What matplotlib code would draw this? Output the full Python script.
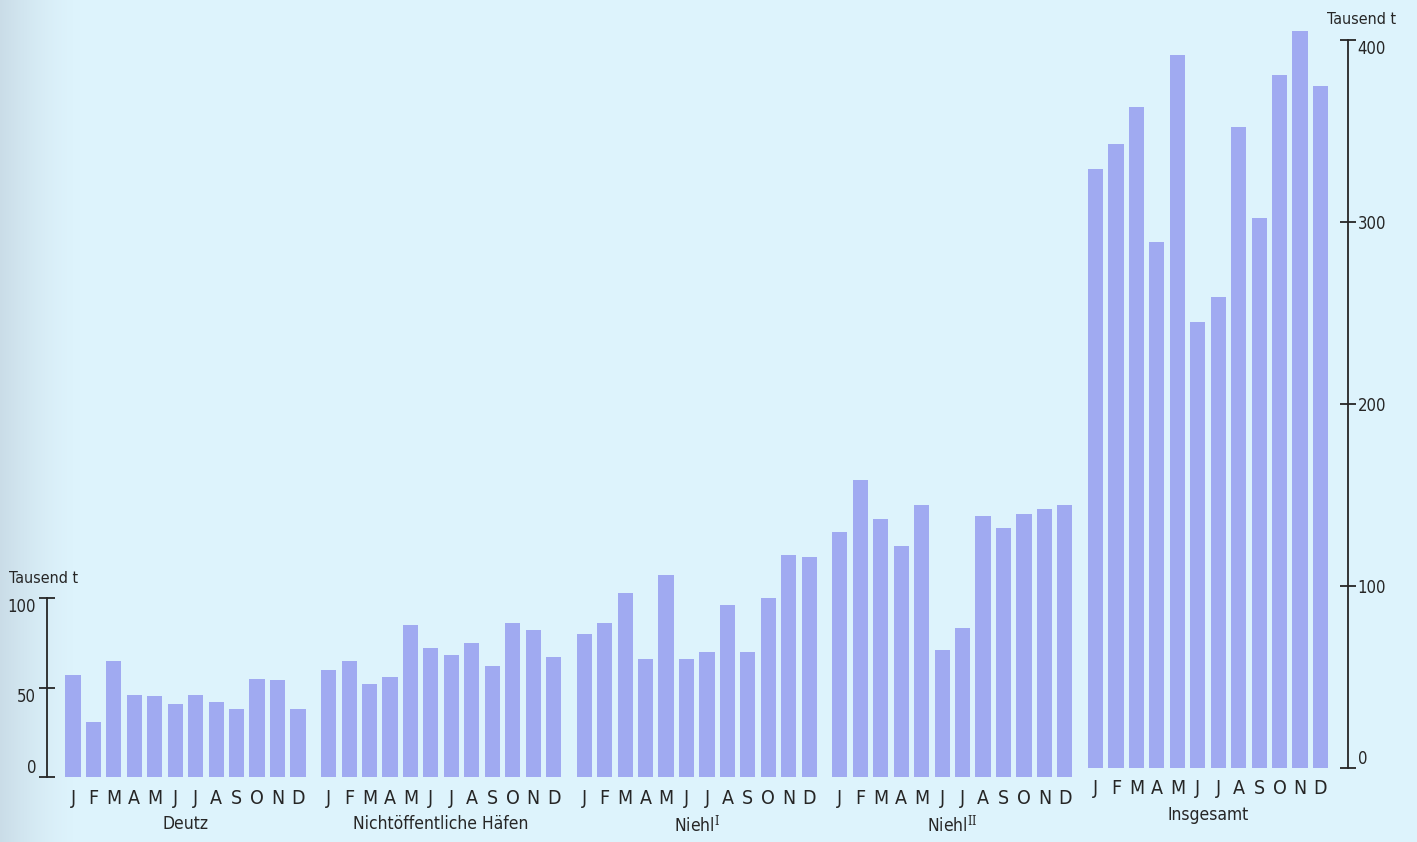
import numpy as np
import matplotlib.pyplot as plt

plt.rcParams['font.family'] = ['DejaVu Sans']
plt.rcParams['font.stretch'] = 'condensed'
plt.rcParams['mathtext.fontset'] = 'dejavuserif'

months = ['J', 'F', 'M', 'A', 'M', 'J', 'J', 'A', 'S', 'O', 'N', 'D']
group_names = ['Deutz', 'Nichtöffentliche Häfen', r'Niehl$^{\mathrm{I}}$',
               r'Niehl$^{\mathrm{II}}$', 'Insgesamt']

# Tausend t
deutz = [57, 31, 65, 46, 45, 41, 46, 42, 38, 55, 54, 38]
nicht_oeff = [60, 65, 52, 56, 85, 72, 68, 75, 62, 86, 82, 67]
niehl_1 = [80, 86, 103, 66, 113, 66, 70, 96, 70, 100, 124, 123]
niehl_2 = [137, 166, 144, 129, 152, 71, 83, 146, 139, 147, 150, 152]
insgesamt = [329, 343, 363, 289, 392, 245, 259, 352, 302, 381, 405, 375]

left_ticks = [0, 50, 100]
right_ticks = [0, 100, 200, 300, 400]

bg = '#ddf3fc'
bar_col = '#a0aaf1'
ink = '#262626'

fig = plt.figure(figsize=(14.17, 8.42), dpi=100, facecolor=bg)
ax = fig.add_axes([0, 0, 1, 1])
ax.set_facecolor(bg)
ax.set_xlim(-3.57, 65.72)
ax.set_ylim(-36.3, 434.1)

ax2 = ax.twinx()
ax2.set_ylim(-40.66, 421.98)
ax2.patch.set_visible(False)

# scan shadow on the left edge
grad = np.zeros((2, 100, 4))
grad[..., :3] = [0.62, 0.66, 0.72]
grad[..., 3] = np.linspace(0.45, 0, 100) ** 1.5
ax.imshow(grad, extent=[0, 0.055, 0, 1], transform=ax.transAxes,
          aspect='auto', zorder=0)

pitch = 12.5
width = 0.74
series = [deutz, nicht_oeff, niehl_1, niehl_2, insgesamt]
for g, vals in enumerate(series):
    target = ax2 if g == 4 else ax
    x = g * pitch + np.arange(len(months))
    target.bar(x, vals, width=width, color=bar_col, zorder=2)
    for xi, m in zip(x, months):
        target.annotate(m, (xi, 0), xytext=(0, -21), textcoords='offset pixels',
                        ha='center', va='center', fontsize=14, color=ink)
    target.annotate(group_names[g], (x.mean(), 0), xytext=(0, -47),
                    textcoords='offset pixels', ha='center', va='center',
                    fontsize=12.5, color=ink)

for s in ax.spines.values():
    s.set_visible(False)
for s in ax2.spines.values():
    s.set_visible(False)

ax.spines['left'].set_visible(True)
ax.spines['left'].set_position(('data', -1.29))
ax.spines['left'].set_bounds(0, 100)
ax.spines['left'].set_color(ink)
ax.spines['left'].set_linewidth(1.3)
ax.set_yticks(left_ticks)
ax.set_yticklabels([str(t) for t in left_ticks])
ax.tick_params(axis='y', direction='inout', length=11, width=1.3,
               color=ink, labelsize=12, labelcolor=ink, pad=2)
ax.set_xticks([])
for lab, t in zip(ax.get_yticklabels(), left_ticks):
    lab.set_va('bottom' if t == 0 else 'top')

ax2.spines['right'].set_visible(True)
ax2.spines['right'].set_position(('data', 62.35))
ax2.spines['right'].set_bounds(0, 400)
ax2.spines['right'].set_color(ink)
ax2.spines['right'].set_linewidth(1.3)
ax2.set_yticks(right_ticks)
ax2.set_yticklabels([str(t) for t in right_ticks])
ax2.tick_params(axis='y', direction='inout', length=12, width=1.3,
                color=ink, labelsize=12, labelcolor=ink, pad=1)
for lab, t in zip(ax2.get_yticklabels(), right_ticks):
    if t == 0:
        lab.set_va('bottom')
    elif t == 400:
        lab.set_va('top')

ax.text(-1.45, 111, 'Tausend t', ha='center', va='center', fontsize=11.5, color=ink)
ax2.text(63.0, 411, 'Tausend t', ha='center', va='center', fontsize=11.5, color=ink)

fig.savefig('out.png', dpi=100, facecolor=bg)
